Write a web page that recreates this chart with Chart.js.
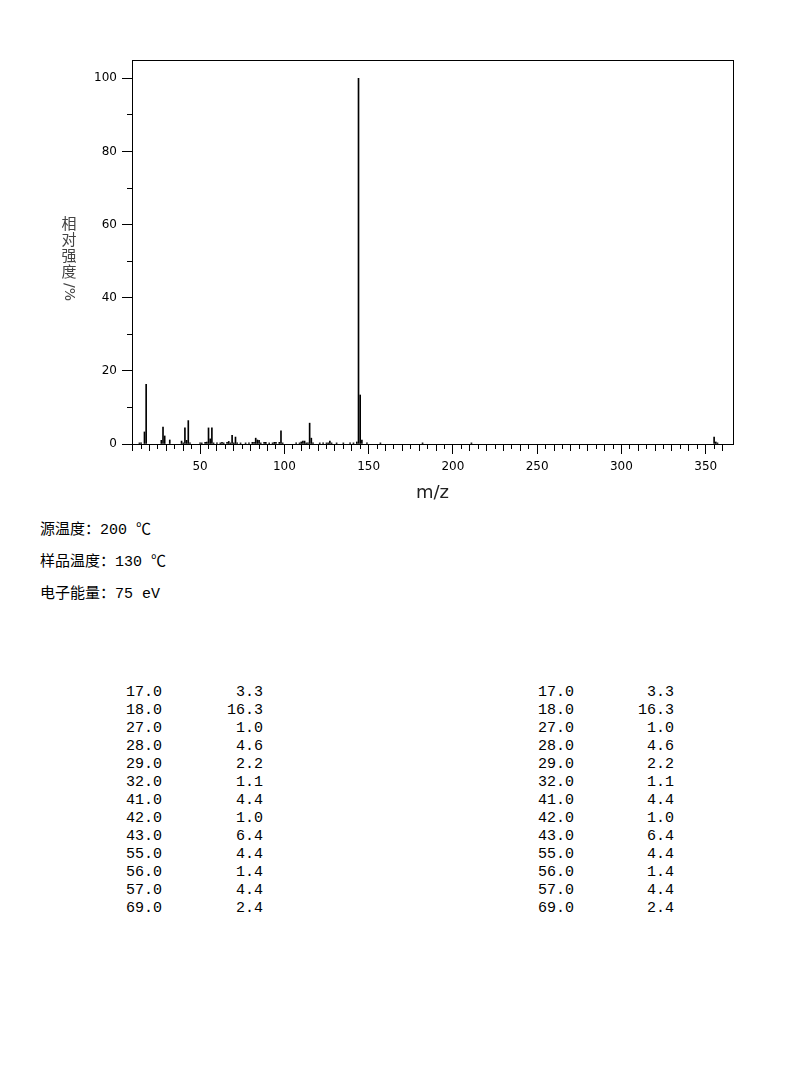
<!DOCTYPE html>
<html>
<head>
<meta charset="utf-8">
<script src="https://cdn.jsdelivr.net/npm/chart.js@4.4.1/dist/chart.umd.min.js"></script>
<style>
  body { margin: 0; background: #fff; width: 794px; height: 1077px; position: relative; overflow: hidden; }
  #spectrum { position: absolute; left: 0; top: 0; }
  .cond { position: absolute; left: 40px; height: 20px; line-height: 20px; font-size: 15px; color: #000;
          font-family: "Liberation Mono", "Noto Sans CJK SC", monospace; white-space: pre; }
  .cell { position: absolute; height: 18px; line-height: 18px; font-size: 15px; color: #000; text-align: right;
          font-family: "Liberation Mono", monospace; white-space: pre; }
</style>
</head>
<body>
<canvas id="spectrum" width="794" height="520"></canvas>
<div id="notes"></div>
<script>
// spectrum (m/z, relative intensity %)
const mz = [14, 15, 17, 18, 27, 28, 29, 32, 39, 40, 41, 42, 43, 44, 50, 51, 53, 54, 55, 56,
  57, 58, 60, 62, 63, 64, 66, 67, 68, 69, 70, 71, 72, 74, 77, 79, 81, 82, 83, 84,
  85, 86, 88, 89, 91, 93, 94, 95, 97, 98, 99, 107, 109, 110, 111, 112, 113, 114, 115, 116,
  117, 121, 123, 125, 126, 127, 128, 131, 135, 139, 141, 143, 144, 145, 146, 149, 157, 182, 211, 355,
  356, 357];
const intensity = [0.3, 0.3, 3.3, 16.3, 1.0, 4.6, 2.2, 1.1, 0.8, 0.3, 4.4, 1.0, 6.4, 0.3, 0.3, 0.3, 0.45, 0.55, 4.4, 1.4,
  4.4, 0.3, 0.3, 0.3, 0.45, 0.3, 0.45, 0.7, 0.3, 2.4, 0.3, 1.9, 0.3, 0.3, 0.3, 0.3, 0.45, 0.45, 1.6, 1.1,
  1.0, 0.3, 0.45, 0.45, 0.3, 0.3, 0.45, 0.45, 0.45, 3.6, 0.3, 0.3, 0.3, 0.55, 0.8, 0.8, 0.3, 0.3, 5.7, 1.6,
  0.3, 0.3, 0.3, 0.3, 0.3, 0.8, 0.3, 0.3, 0.3, 0.3, 0.3, 0.55, 100, 13.4, 1.1, 0.3, 0.3, 0.3, 0.3, 1.9,
  0.55, 0.3];

// listed peaks
const tableMz = [17.0, 18.0, 27.0, 28.0, 29.0, 32.0, 41.0, 42.0, 43.0, 55.0, 56.0, 57.0, 69.0];
const tableInt = [3.3, 16.3, 1.0, 4.6, 2.2, 1.1, 4.4, 1.0, 6.4, 4.4, 1.4, 4.4, 2.4];

// run conditions
const condLabels = ["源温度", "样品温度", "电子能量"];
const condValues = ["200 ℃", "130 ℃", "75 eV"];

const xTitle = "m/z";
const yTitleChars = ["相", "对", "强", "度"];
const yTitleTail = "/%";

const X_MIN = 9.6, X_MAX = 366.2, X_LAST_TICK = 360;
const Y_MIN = 0, Y_MAX = 105;
const tickFont = { family: "DejaVu Sans", size: 12 };

const zeroHeight = s => { s.height = 0; };
const zeroWidth = s => { s.width = 0; };
const upToLast = s => { s.ticks = s.ticks.filter(t => t.value <= X_LAST_TICK); };

function tickAxis(step, len, weight) {
  return {
    type: "linear", position: "bottom", weight, min: X_MIN, max: X_MAX, offset: false,
    ticks: { stepSize: step, includeBounds: false, display: false },
    grid: { drawOnChartArea: false, offset: false, tickLength: len, tickColor: "#000", tickWidth: 1 },
    border: { display: false },
    afterBuildTicks: upToLast,
    afterFit: zeroHeight
  };
}

const yTitlePlugin = {
  id: "yTitle",
  afterDraw(chart) {
    const ctx = chart.ctx;
    ctx.save();
    ctx.fillStyle = "#444";
    ctx.font = '15px "Noto Sans CJK SC"';
    ctx.textAlign = "center";
    ctx.textBaseline = "middle";
    yTitleChars.forEach((c, i) => ctx.fillText(c, 69, 223 + i * 16));
    ctx.translate(69, 292);
    ctx.rotate(Math.PI / 2);
    ctx.font = '14px "DejaVu Sans"';
    ctx.fillText(yTitleTail, 0, 0);
    ctx.restore();
  }
};

new Chart(document.getElementById("spectrum"), {
  type: "bar",
  data: {
    datasets: [{
      data: mz.map((m, i) => ({ x: m, y: intensity[i] })),
      backgroundColor: "#000",
      borderWidth: 0,
      barThickness: 1,
      grouped: false,
      xAxisID: "x",
      yAxisID: "y"
    }]
  },
  options: {
    responsive: false,
    animation: false,
    devicePixelRatio: 1,
    layout: { padding: { left: 0, top: 60, right: 61, bottom: 0 } },
    plugins: { legend: { display: false }, tooltip: { enabled: false } },
    scales: {
      x: tickAxis(5, 5, 0),
      x10: tickAxis(10, 7, 1),
      x50: {
        type: "linear", position: "bottom", weight: 2, min: X_MIN, max: X_MAX, offset: false,
        ticks: { stepSize: 50, includeBounds: false, font: tickFont, color: "#000", padding: 6,
                 maxRotation: 0, autoSkip: false },
        grid: { drawOnChartArea: false, offset: false, tickLength: 10, tickColor: "#000", tickWidth: 1 },
        border: { display: true, color: "#000", width: 1 },
        title: { display: true, text: xTitle, color: "#222",
                 font: { family: "DejaVu Sans", size: 18 }, padding: { top: 0, bottom: 16 } },
        afterFit: s => { s.height = 520 - 444; }
      },
      xTop: {
        type: "linear", position: "top", min: X_MIN, max: X_MAX,
        ticks: { display: false }, grid: { display: false },
        border: { display: true, color: "#000", width: 1 },
        afterFit: zeroHeight
      },
      y: {
        type: "linear", position: "left", weight: 2, min: Y_MIN, max: Y_MAX,
        ticks: { stepSize: 20, includeBounds: false, font: tickFont, color: "#000", padding: 5 },
        grid: { drawOnChartArea: false, tickLength: 10, tickColor: "#000", tickWidth: 1 },
        border: { display: true, color: "#000", width: 1 },
        afterFit: s => { s.width = 132; }
      },
      y10: {
        type: "linear", position: "left", weight: 0, min: Y_MIN, max: Y_MAX,
        ticks: { stepSize: 10, includeBounds: false, display: false },
        grid: { drawOnChartArea: false, tickLength: 5, tickColor: "#000", tickWidth: 1 },
        border: { display: false },
        afterFit: zeroWidth
      },
      yRight: {
        type: "linear", position: "right", min: Y_MIN, max: Y_MAX,
        ticks: { display: false }, grid: { display: false },
        border: { display: true, color: "#000", width: 1 },
        afterFit: zeroWidth
      }
    }
  },
  plugins: [yTitlePlugin]
});

// text below the spectrum
const notes = document.getElementById("notes");
condLabels.forEach((label, i) => {
  const d = document.createElement("div");
  d.className = "cond";
  d.style.top = (521 + i * 32) + "px";
  d.textContent = label + "：" + condValues[i];
  notes.appendChild(d);
});

function cell(text, right, top) {
  const d = document.createElement("div");
  d.className = "cell";
  d.style.left = (right - 80) + "px";
  d.style.width = "80px";
  d.style.top = top + "px";
  d.textContent = text;
  notes.appendChild(d);
}
[[162, 263], [574, 674]].forEach(([mzRight, intRight]) => {
  tableMz.forEach((m, i) => {
    const top = 684 + i * 18;
    cell(m.toFixed(1), mzRight, top);
    cell(tableInt[i].toFixed(1), intRight, top);
  });
});
</script>
</body>
</html>
